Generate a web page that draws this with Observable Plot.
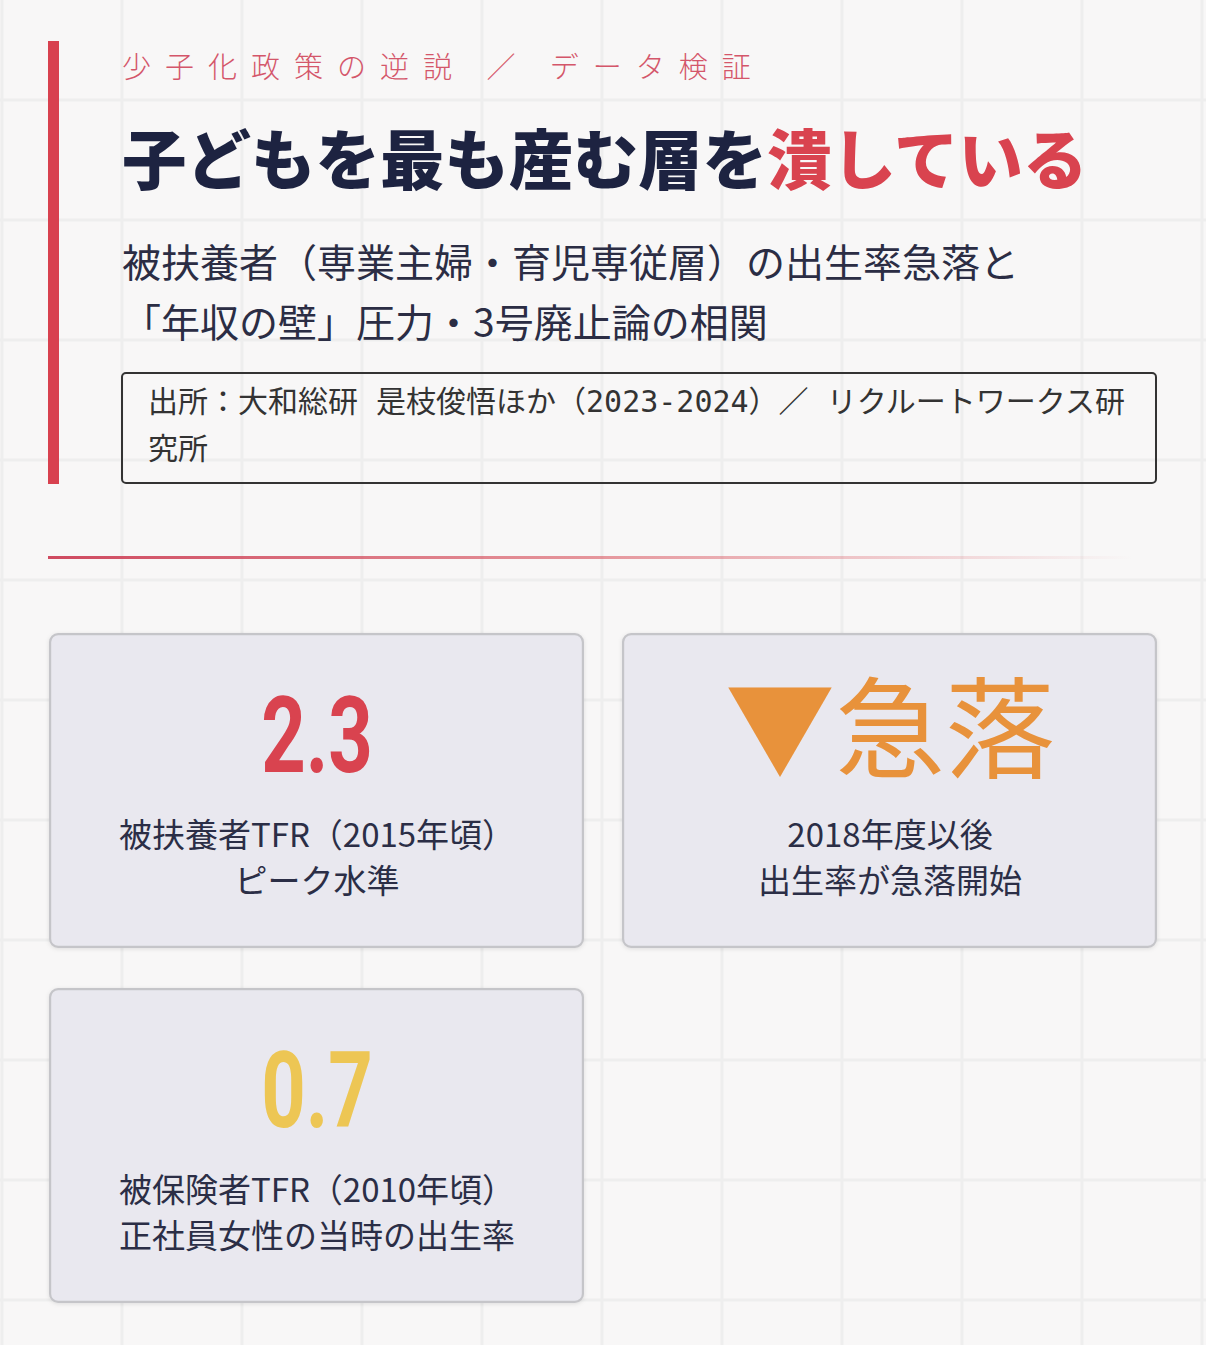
<!DOCTYPE html>
<html lang="ja">
<head>
<meta charset="utf-8">
<script src="https://cdn.jsdelivr.net/npm/d3@7"></script>
<script src="https://cdn.jsdelivr.net/npm/@observablehq/plot@0.6"></script>
<style>
  html, body { margin: 0; padding: 0; }
  body {
    width: 1206px; height: 1345px; overflow: hidden; position: relative;
    background-color: #f8f7f7;
    background-image:
      linear-gradient(to right, rgba(0,0,0,0) 0px, #eeeeee 1px, #eeeeee 3px, rgba(0,0,0,0) 4px),
      linear-gradient(to bottom, rgba(0,0,0,0) 0px, #eeeeee 1px, #eeeeee 3px, rgba(0,0,0,0) 4px);
    background-size: 120px 120px, 120px 120px;
    background-position: 0px 0px, 0px 98px;
    font-family: "Noto Sans CJK JP", "Noto Sans", sans-serif;
  }
  .bar { position: absolute; left: 48px; top: 41px; width: 11px; height: 443px; background: #d8414f; }
  .kicker { position: absolute; left: 122px; top: 51px; font-size: 29px; line-height: 29px; font-weight: 300;
    letter-spacing: 14px; color: #d4566a; white-space: pre; }
  .title { position: absolute; left: 122px; top: 124px; font-size: 64.5px; line-height: 64.5px; font-weight: 900;
    color: #1d2341; white-space: nowrap; }
  .title .hl { color: #d9434f; }
  .sub { position: absolute; left: 122px; top: 230px; font-size: 39px; line-height: 60px; font-weight: 400;
    color: #2b2d44; white-space: nowrap; }
  .source { position: absolute; left: 121px; top: 372px; width: 1036px; height: 112px; box-sizing: border-box;
    border: 2.5px solid #333; border-radius: 5px; padding: 4px 0 0 25px;
    font-family: "DejaVu Sans Mono", "Noto Sans CJK JP", monospace; font-size: 30px; line-height: 47px;
    color: #333; white-space: nowrap; }
  .divider { position: absolute; left: 48px; top: 556px; width: 1085px; height: 3px;
    background: linear-gradient(90deg, #cf4a60 0%, rgba(214,69,80,0.55) 50%, rgba(214,69,80,0.0) 100%); }
  #chart { position: absolute; left: 0; top: 600px; }
</style>
</head>
<body>
<div class="bar"></div>
<div class="kicker">少子化政策の逆説 ／ データ検証</div>
<div class="title">子どもを最も産む層を<span class="hl">潰している</span></div>
<div class="sub">被扶養者（専業主婦・育児専従層）の出生率急落と<br>「年収の壁」圧力・3号廃止論の相関</div>
<div class="source">出所：大和総研 是枝俊悟ほか（2023-2024）／ リクルートワークス研<br>究所</div>
<div class="divider"></div>
<div id="chart"></div>
<script>
// ---- data ----
const cardKeys = ["dependentPeak", "declineOnset", "insuredTFR"];
const cardValues = ["2.3", "▼急落", "0.7"];
const cardLabels = [
  "被扶養者TFR（2015年頃）\nピーク水準",
  "2018年度以後\n出生率が急落開始",
  "被保険者TFR（2010年頃）\n正社員女性の当時の出生率"
];
const cardColors = ["#d9434f", "#e8923b", "#edc654"];

// ---- layout table (2-column grid) ----
const cards = cardKeys.map((key, i) => ({
  key, value: cardValues[i], label: cardLabels[i],
  col: i % 2, row: Math.floor(i / 2)
}));
const isNumber = d => /^[\d.]+$/.test(d.value);

const chart = Plot.plot({
  width: 1206,
  height: 745,
  marginLeft: 49, marginRight: 49, marginTop: 33, marginBottom: 42,
  style: { background: "transparent", overflow: "visible" },
  x: { type: "band", domain: [0, 1], paddingInner: 0.0663, paddingOuter: 0, round: false, axis: null },
  y: { type: "band", domain: [0, 1], paddingInner: 0.1127, paddingOuter: 0, round: false, axis: null },
  color: { type: "categorical", domain: cardKeys, range: cardColors },
  marks: [
    Plot.cell(cards, { x: "col", y: "row", fill: "#e9e8ef", stroke: "#c5c5c9", strokeWidth: 2.2, rx: 8, inset: 1.1 }),
    Plot.text(cards, { filter: isNumber, x: "col", y: "row", text: "value", fill: "key", dy: -53,
      fontSize: 105, fontWeight: 700, fontFamily: "Roboto, 'Liberation Sans', sans-serif" }),
    Plot.text(cards, { filter: d => !isNumber(d), x: "col", y: "row", text: "value", fill: "key", dy: -56,
      fontSize: 110, fontWeight: 400, fontFamily: "'Noto Sans CJK JP', sans-serif" }),
    Plot.text(cards, { x: "col", y: "row", text: "label", fill: "#2b2e46", dy: 64.5, lineHeight: 1.375,
      fontSize: 33, fontWeight: 400, fontFamily: "'Noto Sans CJK JP', sans-serif" })
  ]
});
document.getElementById("chart").appendChild(chart);

// card shadow + condensed look for the big numerals
const svg = chart.tagName.toLowerCase() === "svg" ? chart : chart.querySelector("svg");
svg.querySelectorAll('g[aria-label="cell"]').forEach(g => g.style.filter = "drop-shadow(0px 1px 2px rgba(0,0,0,0.10))");
svg.querySelectorAll("text").forEach(t => {
  if (!/^[\d.]+$/.test(t.textContent.trim())) return;
  const b = t.getBBox();
  const cx = b.x + b.width / 2;
  const tr = t.getAttribute("transform") || "";
  t.setAttribute("transform", `${tr} translate(${cx},0) scale(0.74,1) translate(${-cx},0)`);
});
</script>
</body>
</html>
